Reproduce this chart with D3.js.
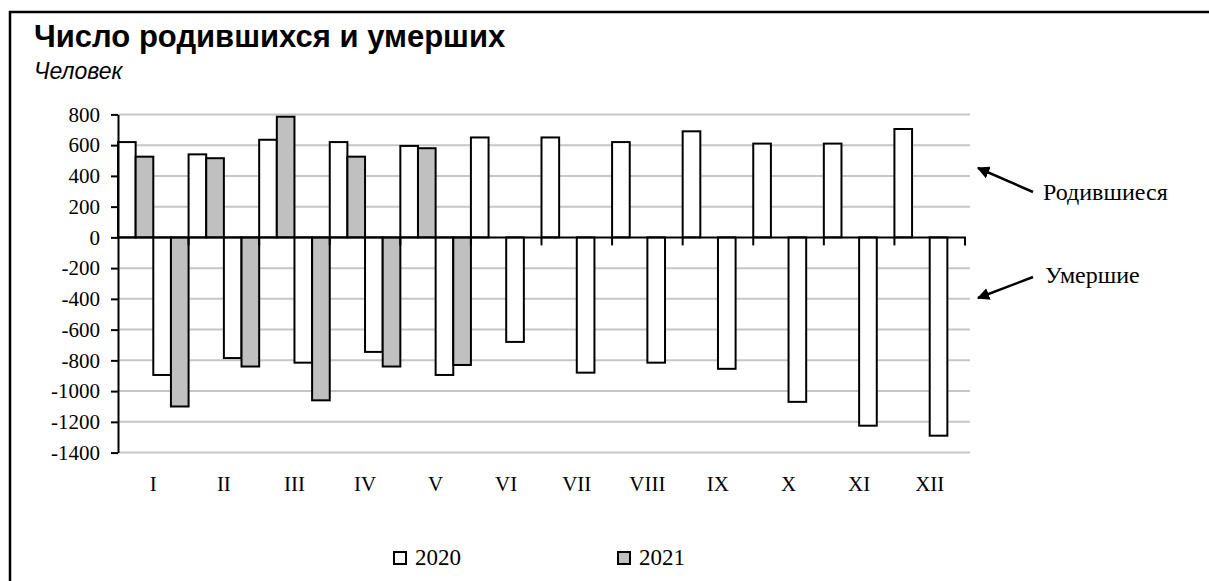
<!DOCTYPE html>
<html><head><meta charset="utf-8">
<script src="https://cdn.jsdelivr.net/npm/d3@7"></script>
<style>body{margin:0;background:#fff}svg{display:block}</style>
</head><body>
<svg id="c" width="1209" height="581"></svg>
<script>
const months = ["I","II","III","IV","V","VI","VII","VIII","IX","X","XI","XII"];
const births2020 = [620,540,635,620,595,650,650,620,690,610,610,705];
const births2021 = [525,515,785,525,580,null,null,null,null,null,null,null];
const deaths2020 = [-895,-785,-815,-745,-895,-680,-880,-815,-855,-1070,-1225,-1290];
const deaths2021 = [-1100,-840,-1060,-840,-830,null,null,null,null,null,null,null];
const yTicks = [800,600,400,200,0,-200,-400,-600,-800,-1000,-1200,-1400];
const legendItems = ["2020","2021"];
const title = "Число родившихся и умерших";
const subtitle = "Человек";

const svg = d3.select("#c");
const serif = "'Liberation Serif','Times New Roman',serif";
const sans = "'Liberation Sans',Arial,sans-serif";

// frame
svg.append("path").attr("d","M10,600 L10,12 L1212,12").attr("fill","none").attr("stroke","#000").attr("stroke-width",2.5);

svg.append("text").attr("x",34).attr("y",47).style("font-family",sans).style("font-weight","bold").style("font-size","31px").text(title);
svg.append("text").attr("x",34).attr("y",79).style("font-family",sans).style("font-style","italic").style("font-size","23px").text(subtitle);

const x = d3.scaleBand().domain(months).range([118,965]).padding(0);
const series = ["b2020","b2021","d2020","d2021"];
const x1 = d3.scaleBand().domain(series).range([0,x.bandwidth()]).padding(0);
const y = d3.scaleLinear().domain([-1400,800]).range([452.6,114.4]);

// gridlines
svg.append("g").selectAll("line").data(yTicks.filter(v=>v!==0)).join("line")
  .attr("x1",118).attr("x2",970).attr("y1",d=>y(d)).attr("y2",d=>y(d))
  .attr("stroke","#c6c6c6").attr("stroke-width",2);

// bars
const rows = [];
months.forEach((m,i)=>{
  [["b2020",births2020[i],"#fff"],["b2021",births2021[i],"#c0c0c0"],["d2020",deaths2020[i],"#fff"],["d2021",deaths2021[i],"#c0c0c0"]]
    .forEach(([s,v,f])=>{ if(v!=null) rows.push({m,s,v,f}); });
});
svg.append("g").selectAll("rect").data(rows).join("rect")
  .attr("x",d=>x(d.m)+x1(d.s)).attr("width",x1.bandwidth())
  .attr("y",d=>Math.min(y(d.v),y(0))).attr("height",d=>Math.abs(y(d.v)-y(0)))
  .attr("fill",d=>d.f).attr("stroke","#000").attr("stroke-width",2);

// y axis
const yAxis = d3.axisLeft(y).tickValues(yTicks).tickSize(7).tickSizeOuter(0).tickPadding(11).tickFormat(d=>d<0?"-"+Math.abs(d):String(d));
const gy = svg.append("g").attr("transform","translate(118,0)").call(yAxis);
gy.attr("font-family",null).attr("font-size",null);
gy.selectAll("text").style("font-family",serif).style("font-size","21px").attr("fill","#000");
gy.selectAll("line").attr("stroke","#000").attr("stroke-width",2);
gy.select(".domain").attr("stroke","#000").attr("stroke-width",2);

// x axis at zero
const bounds = d3.range(13).map(i=>118 + i*x.bandwidth());
const gx = svg.append("g");
gx.append("line").attr("x1",118).attr("x2",966).attr("y1",y(0)).attr("y2",y(0)).attr("stroke","#000").attr("stroke-width",2);
gx.selectAll("line.t").data(bounds.slice(1)).join("line").attr("class","t")
  .attr("x1",d=>d).attr("x2",d=>d).attr("y1",y(0)).attr("y2",y(0)+8).attr("stroke","#000").attr("stroke-width",2);
svg.append("g").selectAll("text").data(months).join("text")
  .attr("x",d=>x(d)+x.bandwidth()/2).attr("y",491).attr("text-anchor","middle")
  .style("font-family",serif).style("font-size","21px").text(d=>d);

// annotations
const defs = svg.append("defs");
defs.append("marker").attr("id","ah").attr("viewBox","0 0 10 10").attr("refX",9).attr("refY",5)
  .attr("markerWidth",5).attr("markerHeight",5).attr("orient","auto")
  .append("path").attr("d","M0,0 L10,5 L0,10 z").attr("fill","#000");
svg.append("line").attr("x1",1033).attr("y1",192).attr("x2",978).attr("y2",168).attr("stroke","#000").attr("stroke-width",2.5).attr("marker-end","url(#ah)");
svg.append("line").attr("x1",1033).attr("y1",277).attr("x2",978).attr("y2",298).attr("stroke","#000").attr("stroke-width",2.5).attr("marker-end","url(#ah)");
svg.append("text").attr("x",1043).attr("y",200).style("font-family",serif).style("font-size","24px").text("Родившиеся");
svg.append("text").attr("x",1045).attr("y",283).style("font-family",serif).style("font-size","24px").text("Умершие");

// legend
const lg = svg.append("g");
const lx = [393,617];
legendItems.forEach((t,i)=>{
  lg.append("rect").attr("x",lx[i]+1).attr("y",552).attr("width",12).attr("height",12)
    .attr("fill",i===0?"#fff":"#c0c0c0").attr("stroke","#000").attr("stroke-width",2);
  lg.append("text").attr("x",lx[i]+22).attr("y",565).style("font-family",serif).style("font-size","23px").text(t);
});
</script>
</body></html>
